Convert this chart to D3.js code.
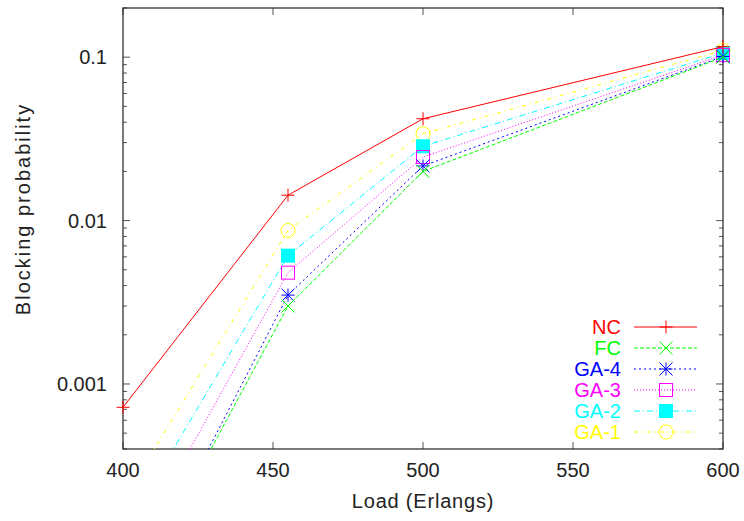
<!DOCTYPE html>
<html><head><meta charset="utf-8">
<script src="https://cdn.jsdelivr.net/npm/d3@7"></script>
<style>body{margin:0;background:#fff}svg{display:block}text{font-family:"Liberation Sans",Arial,sans-serif}</style>
</head><body><svg id="c" width="744" height="521"></svg>
<script>
const loads = [400, 455, 500, 600];
const seriesNames = ["NC", "FC", "GA-4", "GA-3", "GA-2", "GA-1"];
const ncVals  = [0.00072, 0.0143, 0.042, 0.116];
const fcVals  = [0.000040, 0.0030, 0.0200, 0.100];
const ga4Vals = [0.000039, 0.0035, 0.0216, 0.101];
const ga3Vals = [0.000073, 0.0048, 0.0245, 0.103];
const ga2Vals = [0.000121, 0.0061, 0.0285, 0.106];
const ga1Vals = [0.000195, 0.0087, 0.0340, 0.110];
const xTicks = [400, 450, 500, 550, 600];
const yTicks = [0.001, 0.01, 0.1];

const seriesVals = [ncVals, fcVals, ga4Vals, ga3Vals, ga2Vals, ga1Vals];
const colors = ["#ff0000", "#00ff00", "#0000ff", "#ff00ff", "#00ffff", "#ffff00"];
const dashes = [null, "4,2", "2,3", "1,2", "6,3,1,3", "4,4,1,4"];
const markers = ["plus", "cross", "star", "osquare", "fsquare", "circle"];

const svg = d3.select("#c");
const L = 123, R = 723, T = 8, B = 449;
const x = d3.scaleLinear().domain([400, 600]).range([L, R]);
const y = d3.scaleLog().domain([0.0004, 0.2]).range([B, T]);

svg.append("defs").append("clipPath").attr("id", "clip")
  .append("rect").attr("x", L).attr("y", T).attr("width", R - L).attr("height", B - T);

const minor = [];
for (let e = -4; e <= -1; e++) for (let m = 1; m <= 9; m++) {
  const v = m * Math.pow(10, e);
  if (v >= 0.0004 && v <= 0.2) minor.push(v);
}
const tickColor = "#555";
const g = svg.append("g");
minor.forEach(v => {
  const major = yTicks.includes(+v.toPrecision(3));
  const len = major ? 7 : 4;
  g.append("line").attr("x1", L).attr("x2", L + len).attr("y1", y(v)).attr("y2", y(v)).attr("stroke", tickColor);
  g.append("line").attr("x1", R).attr("x2", R - len).attr("y1", y(v)).attr("y2", y(v)).attr("stroke", tickColor);
});
xTicks.forEach(v => {
  g.append("line").attr("x1", x(v)).attr("x2", x(v)).attr("y1", B).attr("y2", B - 7).attr("stroke", tickColor);
  g.append("line").attr("x1", x(v)).attr("x2", x(v)).attr("y1", T).attr("y2", T + 7).attr("stroke", tickColor);
  svg.append("text").attr("x", x(v)).attr("y", 477).attr("text-anchor", "middle")
    .attr("font-size", 20).attr("fill", "#222").text(v);
});
yTicks.forEach(v => {
  svg.append("text").attr("x", 107).attr("y", y(v) + 7).attr("text-anchor", "end")
    .attr("font-size", 20).attr("fill", "#222").text(String(v));
});
svg.append("rect").attr("x", L).attr("y", T).attr("width", R - L).attr("height", B - T)
  .attr("fill", "none").attr("stroke", "#222").attr("stroke-width", 1.2);

svg.append("text").attr("x", 423).attr("y", 508).attr("text-anchor", "middle")
  .attr("font-size", 20).attr("letter-spacing", 0.8).attr("fill", "#222").text("Load (Erlangs)");
svg.append("text").attr("transform", "translate(30,209) rotate(-90)").attr("text-anchor", "middle")
  .attr("font-size", 20).attr("letter-spacing", 2).attr("fill", "#222").text("Blocking probability");

function drawMarker(sel, type, cx, cy, col) {
  const s = 6.5;
  if (type === "plus") {
    sel.append("path").attr("d", `M${cx - s},${cy}H${cx + s}M${cx},${cy - s}V${cy + s}`).attr("stroke", col).attr("fill", "none");
  } else if (type === "cross") {
    sel.append("path").attr("d", `M${cx - s},${cy - s}L${cx + s},${cy + s}M${cx - s},${cy + s}L${cx + s},${cy - s}`).attr("stroke", col).attr("fill", "none");
  } else if (type === "star") {
    sel.append("path").attr("d", `M${cx - s},${cy - s}L${cx + s},${cy + s}M${cx - s},${cy + s}L${cx + s},${cy - s}M${cx - s},${cy}H${cx + s}M${cx},${cy - s}V${cy + s}`).attr("stroke", col).attr("fill", "none");
  } else if (type === "osquare") {
    sel.append("rect").attr("x", cx - s).attr("y", cy - s).attr("width", 2 * s).attr("height", 2 * s).attr("stroke", col).attr("fill", "none");
  } else if (type === "fsquare") {
    sel.append("rect").attr("x", cx - 7).attr("y", cy - 7).attr("width", 14).attr("height", 14).attr("fill", col);
  } else {
    sel.append("circle").attr("cx", cx).attr("cy", cy).attr("r", 7).attr("stroke", col).attr("fill", "none");
  }
}

const line = d3.line().x(d => x(d[0])).y(d => y(d[1]));
for (let i = seriesNames.length - 1; i >= 0; i--) {
  const pts = loads.map((l, k) => [l, seriesVals[i][k]]);
  svg.append("path").attr("d", line(pts)).attr("clip-path", "url(#clip)")
    .attr("fill", "none").attr("stroke", colors[i]).attr("stroke-width", 1)
    .attr("stroke-dasharray", dashes[i]);
  const mg = svg.append("g");
  pts.filter(p => p[1] >= 0.0004 && p[1] <= 0.2).forEach(p => drawMarker(mg, markers[i], x(p[0]), y(p[1]), colors[i]));
}

seriesNames.forEach((n, i) => {
  const ly = 327 + i * 21;
  svg.append("text").attr("x", 621).attr("y", ly + 7).attr("text-anchor", "end")
    .attr("font-size", 20).attr("fill", colors[i]).text(n);
  svg.append("line").attr("x1", 634).attr("x2", 697).attr("y1", ly).attr("y2", ly)
    .attr("stroke", colors[i]).attr("stroke-dasharray", dashes[i]);
  drawMarker(svg, markers[i], 666, ly, colors[i]);
});
</script></body></html>
